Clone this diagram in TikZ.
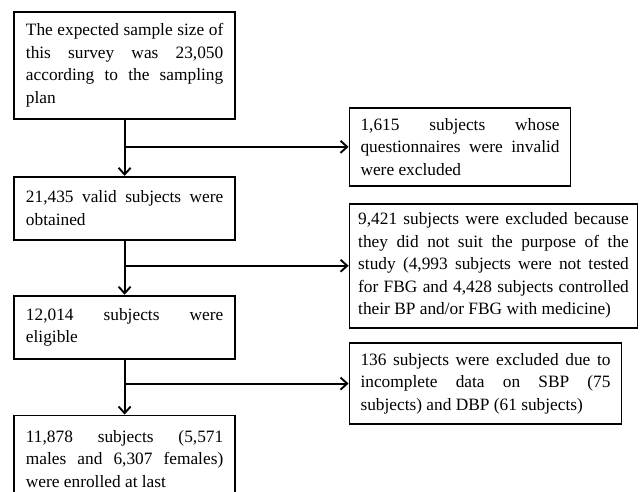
\documentclass[tikz,border=0pt]{standalone}
\usepackage{fontspec}
\setmainfont{Liberation Serif}
\usetikzlibrary{positioning, arrows.meta}
\tolerance=10000
\hbadness=10000

\begin{document}
\begin{tikzpicture}[
        every node/.style={font=\fontsize{13pt}{16.9pt}\selectfont},
        line width=1.4pt,
        stage/.style={draw, rectangle, align=justify, text width=148pt, inner xsep=9pt, minimum height=47.25pt},
        excl/.style={draw, rectangle, align=justify, inner xsep=8.25pt},
        flow/.style={-{Straight Barb[length=5pt,width=9pt]}}
    ]
        \useasboundingbox (0,0) rectangle (480pt,-369pt);

        \node[stage, anchor=north west, minimum height=80.25pt] (S1) at (9.75pt,-8.25pt)
        {The expected sample size of\linebreak this survey was 23,050\linebreak according to the sampling\linebreak plan};
        \node[stage, below=42pt of S1] (S2) {21,435 valid subjects were\linebreak obtained};
        \node[stage, below=40.5pt of S2] (S3) {12,014 subjects were\linebreak eligible};
        \node[stage, below=41.25pt of S3, minimum height=65.25pt] (S4)
        {11,878 subjects (5,571\linebreak males and 6,307 females)\linebreak were enrolled at last};

        % branch points on the main line
        \coordinate[below=20.25pt of S1] (B1);
        \coordinate[below=18.75pt of S2] (B2);
        \coordinate[below=18pt of S3] (B3);

        \node[excl, text width=149.25pt, minimum height=58.5pt, right=168pt of B1] (E1)
        {1,615 subjects whose\linebreak questionnaires were invalid\linebreak were excluded};
        \node[excl, text width=203pt, inner xsep=6.5pt, minimum height=93pt, right=168pt of B2] (E2)
        {9,421 subjects were excluded because\linebreak they did not suit the purpose of the\linebreak study (4,993 subjects were not tested\linebreak for FBG and 4,428 subjects controlled\linebreak their BP and/or FBG with medicine)};
        \node[excl, text width=187.5pt, minimum height=60.75pt, right=168pt of B3] (E3)
        {136 subjects were excluded due to\linebreak incomplete data on SBP (75\linebreak subjects) and DBP (61 subjects)};

        \draw[flow] (S1) -- (S2);
        \draw[flow] (S2) -- (S3);
        \draw[flow] (S3) -- (S4);

        \draw[flow] (B1) -- (E1);
        \draw[flow] (B2) -- (E2);
        \draw[flow] (B3) -- (E3);

    \end{tikzpicture}
\end{document}
